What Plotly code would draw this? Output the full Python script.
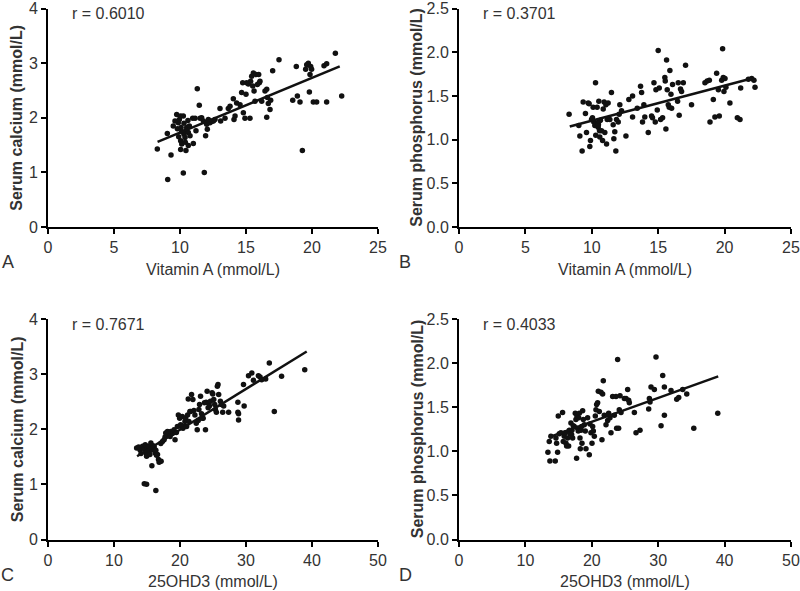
import plotly.graph_objects as go

# ---------------- data ----------------
A_x = [8.28, 9.04, 9.32, 9.07, 9.49, 9.62, 9.75, 9.87, 9.95, 10.05,
       10.08, 10.13, 10.25, 10.30, 10.38, 10.45, 10.51, 10.63, 10.71, 10.76,
       10.05, 10.13, 10.25, 10.05, 10.45, 10.63, 11.01, 10.96, 11.14, 11.31,
       11.46, 11.52, 11.21, 11.64, 11.77, 11.84, 11.94, 12.02, 12.07, 12.15,
       12.27, 12.40, 12.53, 12.65, 13.03, 13.08, 13.41, 13.66, 13.79, 14.04,
       14.09, 14.17, 14.29, 14.55, 14.67, 14.75, 14.80, 14.92, 15.00, 15.05,
       15.18, 15.30, 15.35, 15.43, 15.51, 15.56, 15.61, 15.68, 15.76, 15.86,
       15.96, 16.01, 16.06, 16.19, 16.44, 16.57, 16.62, 16.69, 16.82, 16.87,
       16.57, 17.02, 17.50, 18.54, 18.81, 18.89, 19.09, 19.27, 19.52, 19.60,
       19.72, 19.80, 19.85, 19.90, 19.97, 20.10, 20.35, 20.91, 21.11, 21.11,
       21.77, 22.25, 9.80, 10.30, 10.60, 10.40, 9.90]
A_y = [1.43, 1.71, 1.32, 0.87, 1.85, 1.94, 2.06, 1.91, 1.97, 2.03,
       1.82, 1.75, 2.03, 1.70, 1.64, 1.76, 1.82, 1.73, 1.85, 1.67,
       1.58, 1.52, 0.99, 1.42, 1.40, 1.49, 1.53, 1.99, 1.99, 2.53,
       2.23, 1.99, 1.76, 2.00, 1.94, 1.00, 1.67, 1.88, 1.79, 1.97,
       1.91, 1.93, 1.94, 1.97, 2.17, 1.94, 1.99, 2.17, 2.21, 2.35,
       1.97, 2.03, 2.27, 2.24, 2.46, 2.64, 2.09, 1.99, 2.43, 2.64,
       2.62, 1.99, 2.67, 2.76, 2.58, 2.82, 2.49, 2.30, 2.79, 2.61,
       2.79, 2.64, 2.67, 2.30, 2.49, 2.52, 2.37, 2.26, 2.15, 2.32,
       2.01, 2.86, 3.06, 2.32, 2.94, 2.40, 2.29, 1.40, 2.89, 2.97,
       3.00, 2.47, 2.79, 2.94, 2.89, 2.29, 2.29, 2.95, 2.99, 2.29,
       3.18, 2.40, 1.80, 1.90, 1.95, 1.55, 1.65]
A_fit_x = [8.3, 22.1]
A_fit_y = [1.56, 2.94]

B_x = [8.29, 9.02, 9.10, 9.27, 9.35, 9.52, 9.60, 9.73, 9.85, 9.90,
       9.80, 9.98, 10.05, 10.10, 10.15, 10.23, 10.28, 10.30, 10.35, 10.40,
       10.48, 10.53, 10.58, 10.60, 10.65, 10.73, 10.81, 10.86, 10.93, 10.98,
       11.06, 11.11, 11.16, 11.23, 11.36, 11.48, 11.61, 11.66, 11.73, 11.81,
       11.86, 11.99, 12.06, 12.11, 12.24, 12.57, 12.79, 13.07, 13.07, 13.42,
       13.67, 13.75, 13.82, 13.92, 13.99, 14.25, 14.50, 14.57, 14.68, 14.78,
       14.83, 14.93, 15.00, 15.08, 15.18, 15.33, 15.50, 15.53, 15.58, 15.63,
       15.68, 15.76, 15.83, 15.88, 15.96, 16.01, 16.08, 16.46, 16.51, 16.58,
       16.68, 16.76, 16.89, 17.06, 17.51, 18.52, 18.69, 18.85, 18.90, 19.15,
       19.27, 19.40, 19.53, 19.60, 19.78, 19.85, 19.90, 19.95, 20.03, 20.10,
       20.40, 20.96, 21.16, 21.21, 21.79, 22.04, 22.21, 22.29, 10.45, 10.50,
       10.55]
B_y = [1.29, 1.16, 1.04, 0.87, 1.43, 1.30, 1.08, 1.42, 0.92, 0.99,
       1.41, 1.23, 1.25, 1.37, 1.20, 1.16, 1.65, 1.05, 1.18, 1.37,
       1.14, 1.44, 1.10, 1.03, 1.22, 1.10, 0.99, 1.35, 1.43, 1.08,
       1.40, 0.95, 1.23, 1.42, 1.23, 1.54, 1.17, 1.01, 1.09, 0.87,
       1.23, 1.20, 1.29, 1.40, 1.33, 1.04, 1.46, 1.50, 1.26, 1.36,
       1.61, 1.54, 1.20, 1.40, 1.26, 1.08, 1.27, 1.25, 1.65, 1.20,
       1.57, 1.34, 2.02, 1.59, 1.23, 1.25, 1.71, 1.67, 1.12, 1.91,
       1.57, 1.40, 1.37, 1.79, 1.52, 1.36, 1.63, 1.44, 1.65, 1.28,
       1.58, 1.55, 1.65, 1.85, 1.40, 1.65, 1.67, 1.68, 1.20, 1.46,
       1.26, 1.76, 1.57, 1.27, 1.68, 2.04, 1.71, 1.55, 1.70, 1.60,
       1.42, 1.25, 1.23, 1.59, 1.69, 1.70, 1.68, 1.60, 1.19, 1.17,
       1.21]
B_fit_x = [8.34, 22.03]
B_fit_y = [1.15, 1.70]

C_x = [13.43, 13.73, 13.93, 14.09, 14.34, 14.59, 14.74, 14.84, 14.94, 15.09,
       15.24, 15.34, 15.44, 15.59, 15.74, 15.84, 15.94, 16.09, 16.24, 16.34,
       16.44, 16.59, 16.74, 16.84, 16.94, 17.14, 14.59, 14.94, 16.34, 17.09,
       17.34, 17.59, 17.74, 17.84, 18.10, 18.25, 18.35, 18.50, 18.60, 18.75,
       18.95, 19.10, 19.25, 19.45, 19.60, 19.75, 19.95, 20.10, 20.25, 20.35,
       20.45, 20.60, 20.75, 20.85, 21.00, 21.15, 21.25, 21.35, 21.50, 21.60,
       21.75, 21.95, 22.11, 22.26, 22.46, 22.61, 22.76, 22.86, 22.96, 23.11,
       23.26, 23.36, 23.51, 23.71, 23.86, 23.96, 24.11, 24.26, 24.36, 24.46,
       24.61, 24.86, 24.96, 25.11, 25.26, 25.36, 25.51, 25.66, 25.76, 25.86,
       26.12, 26.27, 26.47, 26.62, 27.37, 28.77, 28.77, 28.87, 28.87, 29.72,
       29.62, 30.38, 30.88, 31.13, 31.88, 32.13, 32.38, 32.98, 33.53, 34.29,
       35.39, 38.90]
C_y = [1.66, 1.68, 1.63, 1.56, 1.69, 1.64, 1.72, 1.57, 1.51, 1.66,
       1.69, 1.60, 1.54, 1.75, 1.34, 1.63, 1.70, 1.68, 1.57, 1.62,
       1.53, 1.54, 1.45, 1.40, 1.42, 1.42, 1.01, 1.00, 0.89, 1.74,
       1.78, 1.81, 1.86, 1.93, 1.96, 1.90, 1.94, 1.87, 1.96, 1.92,
       1.93, 1.99, 1.81, 1.94, 2.05, 2.26, 2.20, 2.08, 2.04, 2.23,
       2.02, 2.05, 2.14, 2.20, 2.05, 2.26, 2.55, 2.14, 2.32, 2.32,
       2.63, 2.54, 2.34, 2.26, 2.11, 1.99, 2.16, 2.36, 2.45, 2.60,
       2.28, 2.20, 2.20, 2.48, 1.99, 2.49, 2.69, 2.39, 2.48, 2.42,
       2.51, 2.66, 2.64, 2.54, 2.45, 2.36, 2.31, 2.78, 2.81, 2.63,
       2.51, 2.45, 2.31, 2.42, 2.31, 2.49, 2.31, 2.28, 2.17, 2.42,
       2.81, 2.97, 3.02, 2.89, 2.97, 2.95, 2.90, 2.91, 3.20, 2.32,
       2.96, 3.08]
C_fit_x = [13.5, 39.2]
C_fit_y = [1.51, 3.41]

D_x = [13.39, 13.59, 13.69, 13.84, 14.50, 14.60, 14.70, 14.85, 14.95, 15.10,
       15.35, 15.60, 15.70, 15.85, 16.01, 16.11, 16.21, 16.36, 16.51, 16.61,
       16.71, 16.86, 16.96, 17.01, 17.11, 17.21, 17.36, 17.51, 17.61, 17.71,
       17.76, 17.86, 17.96, 18.02, 18.12, 18.22, 18.27, 18.37, 18.47, 18.52,
       18.62, 18.72, 18.87, 19.02, 19.12, 19.37, 19.62, 19.72, 19.87, 20.03,
       20.13, 20.23, 20.38, 20.53, 20.63, 20.73, 20.88, 20.98, 21.13, 21.38,
       21.53, 21.63, 21.73, 21.88, 22.14, 22.39, 22.54, 22.74, 22.89, 23.14,
       23.39, 23.64, 23.74, 23.89, 24.04, 24.14, 24.25, 24.40, 24.90, 25.15,
       25.40, 25.55, 25.65, 26.41, 26.66, 27.26, 28.57, 28.67, 28.77, 28.92,
       29.42, 29.67, 30.43, 30.68, 30.93, 30.93, 31.93, 32.79, 33.09, 33.69,
       34.30, 35.36, 38.97]
D_y = [0.99, 1.11, 0.89, 1.17, 0.89, 1.15, 1.09, 0.99, 1.40, 1.20,
       1.21, 1.44, 1.11, 1.17, 1.21, 1.09, 1.06, 1.15, 1.06, 1.24,
       1.20, 1.32, 1.19, 1.24, 1.15, 1.29, 1.28, 1.43, 1.36, 0.92,
       1.40, 1.26, 1.23, 1.38, 1.43, 1.15, 1.03, 1.24, 1.28, 1.09,
       1.46, 1.36, 1.30, 1.23, 1.03, 1.38, 0.96, 1.31, 1.21, 1.09,
       1.28, 1.23, 1.17, 1.40, 1.47, 1.53, 1.55, 1.68, 1.45, 1.67,
       1.13, 1.65, 1.80, 1.41, 1.30, 1.35, 1.43, 1.38, 1.21, 1.62,
       1.41, 1.62, 1.26, 2.04, 1.26, 1.47, 1.63, 1.44, 1.60, 1.60,
       1.70, 1.58, 1.55, 1.44, 1.21, 1.24, 1.48, 1.60, 1.56, 1.73,
       1.70, 2.07, 1.29, 1.86, 1.41, 1.73, 1.69, 1.59, 1.61, 1.70,
       1.65, 1.26, 1.43]
D_fit_x = [13.57, 39.04]
D_fit_y = [1.16, 1.85]

r_labels = ["r = 0.6010", "r = 0.3701", "r = 0.7671", "r = 0.4033"]
panel_letters = ["A", "B", "C", "D"]
x_titles = ["Vitamin A (mmol/L)", "Vitamin A (mmol/L)", "25OHD3 (mmol/L)", "25OHD3 (mmol/L)"]
y_titles = ["Serum calcium (mmol/L)", "Serum phosphorus (mmol/L)",
            "Serum calcium (mmol/L)", "Serum phosphorus (mmol/L)"]

# ---------------- layout helpers ----------------
W, H = 800, 591
FONT = "Liberation Sans, Arial, Helvetica, sans-serif"
TXT = "#333333"
INK = "#111111"

def fx(p):
    return p / W

def fy(p):
    return 1 - p / H

panels = [
    dict(x=A_x, y=A_y, lx=A_fit_x, ly=A_fit_y, xr=[0, 25], xd=5, yr=[0, 4], yd=1, yf="d",
         xdom=(48, 378), ydom=(8.5, 227), ytx=17, ltx=7.5),
    dict(x=B_x, y=B_y, lx=B_fit_x, ly=B_fit_y, xr=[0, 25], xd=5, yr=[0, 2.5], yd=0.5, yf=".1f",
         xdom=(459, 791), ydom=(8.5, 227), ytx=417, ltx=405),
    dict(x=C_x, y=C_y, lx=C_fit_x, ly=C_fit_y, xr=[0, 50], xd=10, yr=[0, 4], yd=1, yf="d",
         xdom=(48, 378), ydom=(319, 539.5), ytx=17, ltx=7.5),
    dict(x=D_x, y=D_y, lx=D_fit_x, ly=D_fit_y, xr=[0, 50], xd=10, yr=[0, 2.5], yd=0.5, yf=".1f",
         xdom=(459, 791), ydom=(319, 539.5), ytx=417, ltx=405),
]

fig = go.Figure()
annotations = []
layout_axes = {}

for i, p in enumerate(panels):
    n = "" if i == 0 else str(i + 1)
    xa, ya = "x" + n, "y" + n
    fig.add_trace(go.Scatter(x=p["x"], y=p["y"], mode="markers", xaxis=xa, yaxis=ya,
                             marker=dict(size=5.5, color=INK, line=dict(width=0)),
                             showlegend=False, hoverinfo="skip"))
    fig.add_trace(go.Scatter(x=p["lx"], y=p["ly"], mode="lines", xaxis=xa, yaxis=ya,
                             line=dict(color=INK, width=2.5), showlegend=False, hoverinfo="skip"))
    common = dict(showgrid=False, zeroline=False, showline=True, linecolor="black", linewidth=2,
                  ticks="outside", ticklen=5, tickwidth=2, tickcolor="black", automargin=False,
                  ticklabeloverflow="allow",
                  tickfont=dict(family=FONT, size=16, color=TXT), fixedrange=True)
    layout_axes["xaxis" + n] = dict(common, domain=[fx(p["xdom"][0]), fx(p["xdom"][1])],
                                    range=p["xr"], dtick=p["xd"], tick0=0, anchor=ya)
    layout_axes["yaxis" + n] = dict(common, domain=[fy(p["ydom"][1]), fy(p["ydom"][0])],
                                    range=p["yr"], dtick=p["yd"], tick0=0, tickformat=p["yf"],
                                    anchor=xa)

    left = p["xdom"][0]
    right = p["xdom"][1]
    top = p["ydom"][0]
    bottom = p["ydom"][1]
    # r value
    annotations.append(dict(text=r_labels[i], xref="paper", yref="paper", x=fx(left + 22),
                            y=fy(top + 5), xanchor="left", yanchor="middle", showarrow=False,
                            font=dict(family=FONT, size=16, color=TXT)))
    # x title
    annotations.append(dict(text=x_titles[i], xref="paper", yref="paper", x=fx((left + right) / 2),
                            y=fy(bottom + 42), xanchor="center", yanchor="middle", showarrow=False,
                            font=dict(family=FONT, size=16, color=TXT)))
    # y title
    annotations.append(dict(text="<b>" + y_titles[i] + "</b>", xref="paper", yref="paper",
                            x=fx(p["ytx"]), y=fy((top + bottom) / 2), textangle=-90,
                            xanchor="center", yanchor="middle", showarrow=False,
                            font=dict(family=FONT, size=16, color=TXT)))
    # panel letter
    annotations.append(dict(text=panel_letters[i], xref="paper", yref="paper",
                            x=fx(p["ltx"]), y=fy(bottom + 35), xanchor="center", yanchor="middle",
                            showarrow=False, font=dict(family=FONT, size=18, color=TXT)))

fig.update_layout(width=W, height=H, margin=dict(l=0, r=0, t=0, b=0),
                  paper_bgcolor="white", plot_bgcolor="white",
                  annotations=annotations, **layout_axes)

fig.write_html("out.html", config={"displayModeBar": False, "staticPlot": True},
               post_script="document.body.style.margin='0';document.body.style.padding='0';"
                           "document.body.style.overflow='hidden';")
